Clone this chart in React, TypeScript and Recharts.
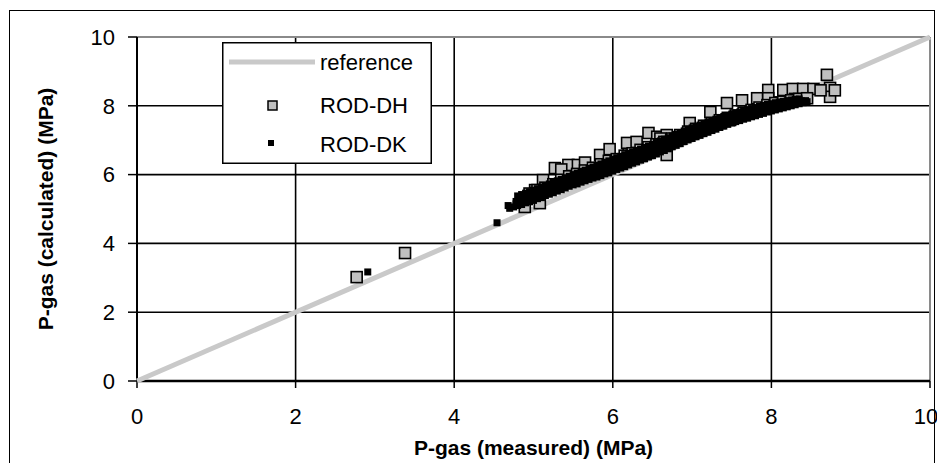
// App.tsx
import React from "react";
import {
  ScatterChart,
  Scatter,
  XAxis,
  YAxis,
  CartesianGrid,
  Legend,
  ReferenceLine
} from "recharts";

/**
 * P-gas calculated vs measured (MPa)
 * - reference 1:1 line, ROD-DH (grey squares), ROD-DK (small black squares)
 */

const xTicks = [0, 2, 4, 6, 8, 10];
const yTicks = [0, 2, 4, 6, 8, 10];

// [measured, calculated]
const referencePoints: [number, number][] = [
  [0, 0],
  [10, 10]
];

// ROD-DH, outliers and squares sticking out of the cloud
const dhOuter: [number, number][] = [
  [2.77, 3.02], [3.38, 3.72], [4.89, 5.06], [5.02, 5.55], [5.08, 5.17], [5.12, 5.84], [5.27, 6.19],
  [5.44, 6.28], [5.56, 6.28], [5.84, 6.57], [5.96, 6.74], [6.18, 6.92], [6.45, 7.21], [6.56, 7.1],
  [6.68, 7.15], [6.68, 6.57], [6.97, 7.5], [7.23, 7.82], [7.44, 8.08], [7.48, 7.59], [7.63, 8.16],
  [7.82, 8.22], [7.96, 8.46], [7.96, 8.22], [8.15, 8.46], [8.27, 8.49], [8.4, 8.49], [8.53, 8.49],
  [8.7, 8.9], [8.74, 8.52], [8.74, 8.26], [8.62, 8.45], [8.8, 8.45], [5.35, 6.15], [5.65, 6.35],
  [6.3, 6.95], [6.6, 7.05], [6.2, 6.6], [7.1, 7.3], [7.35, 7.5], [7.65, 7.75], [8.1, 8.1], [8.3, 8.2]
];

// ROD-DH, squares inside the cloud
const dhInner: [number, number][] = [
  [4.95, 5.45], [5.05, 5.55], [5.15, 5.62], [5.25, 5.72], [5.35, 5.85], [5.45, 5.95], [5.55, 6.02],
  [5.65, 6.12], [5.75, 6.2], [5.85, 6.3], [5.95, 6.4], [6.05, 6.45], [6.15, 6.55], [6.25, 6.62],
  [6.35, 6.72], [6.45, 6.8], [6.55, 6.88], [6.65, 6.95], [6.75, 7.05], [6.85, 7.15], [6.95, 7.25],
  [7.05, 7.33], [7.15, 7.42], [7.25, 7.5], [7.35, 7.58], [7.45, 7.65], [7.55, 7.72], [7.65, 7.8],
  [7.75, 7.88], [7.85, 7.95], [7.95, 8.02], [8.05, 8.08], [8.15, 8.12], [8.25, 8.16], [8.35, 8.2],
  [8.45, 8.22]
];

// ROD-DK, isolated points
const dkOuter: [number, number][] = [
  [2.91, 3.17], [4.54, 4.6], [4.68, 5.1], [4.78, 5.15]
];

// ROD-DK, lower edge of the cloud
const dkLower: [number, number][] = [
  [4.7, 5.02], [4.75, 5.06], [4.8, 5.1], [4.85, 5.13], [4.9, 5.18], [4.95, 5.21], [5.0, 5.25],
  [5.05, 5.3], [5.1, 5.33], [5.15, 5.39], [5.2, 5.43], [5.25, 5.47], [5.3, 5.52], [5.35, 5.56],
  [5.4, 5.61], [5.45, 5.66], [5.5, 5.7], [5.55, 5.73], [5.6, 5.78], [5.65, 5.82], [5.7, 5.86],
  [5.75, 5.9], [5.8, 5.93], [5.85, 5.97], [5.9, 6.02], [5.95, 6.05], [6.0, 6.1], [6.05, 6.15],
  [6.1, 6.19], [6.15, 6.23], [6.2, 6.28], [6.25, 6.33], [6.3, 6.37], [6.35, 6.42], [6.4, 6.46],
  [6.45, 6.51], [6.5, 6.55], [6.55, 6.6], [6.6, 6.66], [6.65, 6.7], [6.7, 6.75], [6.75, 6.81],
  [6.8, 6.85], [6.85, 6.9], [6.9, 6.96], [6.95, 7.01], [7.0, 7.05], [7.05, 7.1], [7.1, 7.14],
  [7.15, 7.19], [7.2, 7.23], [7.25, 7.28], [7.3, 7.32], [7.35, 7.37], [7.4, 7.41], [7.45, 7.46],
  [7.5, 7.5], [7.55, 7.54], [7.6, 7.57], [7.65, 7.61], [7.7, 7.64], [7.75, 7.68], [7.8, 7.71],
  [7.85, 7.75], [7.9, 7.78], [7.95, 7.82], [8.0, 7.85], [8.05, 7.88], [8.1, 7.91], [8.15, 7.94],
  [8.2, 7.97], [8.25, 8.0], [8.3, 8.03], [8.35, 8.06], [8.4, 8.09], [8.45, 8.12]
];

// ROD-DK, middle of the cloud
const dkMiddle: [number, number][] = [
  [4.78, 5.22], [4.83, 5.25], [4.88, 5.29], [4.93, 5.33], [4.98, 5.37], [5.03, 5.42], [5.08, 5.46],
  [5.13, 5.51], [5.18, 5.55], [5.23, 5.6], [5.28, 5.64], [5.33, 5.69], [5.38, 5.73], [5.43, 5.78],
  [5.48, 5.83], [5.53, 5.87], [5.58, 5.92], [5.63, 5.96], [5.68, 6.01], [5.73, 6.05], [5.78, 6.1],
  [5.83, 6.14], [5.88, 6.19], [5.93, 6.23], [5.98, 6.28], [6.03, 6.32], [6.08, 6.36], [6.13, 6.41],
  [6.18, 6.45], [6.23, 6.49], [6.28, 6.53], [6.33, 6.58], [6.38, 6.62], [6.43, 6.66], [6.48, 6.7],
  [6.53, 6.75], [6.58, 6.8], [6.63, 6.85], [6.68, 6.9], [6.73, 6.95], [6.78, 7.0], [6.83, 7.05],
  [6.88, 7.1], [6.93, 7.15], [6.98, 7.2], [7.03, 7.24], [7.08, 7.29], [7.13, 7.33], [7.18, 7.37],
  [7.23, 7.42], [7.28, 7.46], [7.33, 7.5], [7.38, 7.55], [7.43, 7.59], [7.48, 7.63], [7.53, 7.66],
  [7.58, 7.7], [7.63, 7.73], [7.68, 7.77], [7.73, 7.8], [7.78, 7.83], [7.83, 7.87], [7.88, 7.9],
  [7.93, 7.93], [7.98, 7.96], [8.03, 7.99], [8.08, 8.01], [8.13, 8.04], [8.18, 8.06], [8.23, 8.08],
  [8.28, 8.1], [8.33, 8.12], [8.38, 8.14], [8.43, 8.15]
];

// ROD-DK, upper part of the cloud
const dkUpper: [number, number][] = [
  [4.8, 5.38], [4.85, 5.42], [4.9, 5.46], [4.95, 5.5], [5.0, 5.55], [5.05, 5.59], [5.1, 5.64],
  [5.15, 5.68], [5.2, 5.73], [5.25, 5.77], [5.3, 5.82], [5.35, 5.86], [5.4, 5.91], [5.45, 5.95],
  [5.5, 6.0], [5.55, 6.04], [5.6, 6.09], [5.65, 6.13], [5.7, 6.18], [5.75, 6.22], [5.8, 6.27],
  [5.85, 6.31], [5.9, 6.36], [5.95, 6.4], [6.0, 6.45], [6.05, 6.49], [6.1, 6.53], [6.15, 6.58],
  [6.2, 6.62], [6.25, 6.66], [6.3, 6.7], [6.35, 6.74], [6.4, 6.79], [6.45, 6.83], [6.5, 6.88],
  [6.55, 6.93], [6.6, 6.98], [6.65, 7.03], [6.7, 7.07], [6.75, 7.12], [6.8, 7.17], [6.85, 7.22],
  [6.9, 7.27], [6.95, 7.32], [7.0, 7.36], [7.05, 7.4], [7.1, 7.44], [7.15, 7.49], [7.2, 7.53],
  [7.25, 7.57], [7.3, 7.61], [7.35, 7.65], [7.4, 7.69], [7.45, 7.72], [7.5, 7.76], [7.55, 7.79],
  [7.6, 7.82], [7.65, 7.86], [7.7, 7.89], [7.75, 7.92], [7.8, 7.95], [7.85, 7.98], [7.9, 8.01],
  [7.95, 8.04], [8.0, 8.06], [8.05, 8.09], [8.1, 8.11], [8.15, 8.13], [8.2, 8.15], [8.25, 8.17],
  [8.3, 8.19], [8.35, 8.2]
];

const toXY = (pts: [number, number][]) => pts.map(([x, y]) => ({ x, y }));
const referenceData = toXY(referencePoints);
const dhData = toXY([...dhOuter, ...dhInner]);
const dkData = toXY([...dkOuter, ...dkLower, ...dkMiddle, ...dkUpper]);

const FONT = "'Liberation Sans', Arial, sans-serif";
const REF_GREY = "#c9c9c9";

function DhSquare(props: any) {
  const { cx, cy } = props;
  if (cx == null || cy == null) return null;
  return <rect x={cx - 5.5} y={cy - 5.5} width={11} height={11} fill="#c0c0c0" stroke="#000" strokeWidth={1.6} />;
}

function DkSquare(props: any) {
  const { cx, cy } = props;
  if (cx == null || cy == null) return null;
  return <rect x={cx - 3.5} y={cy - 3.5} width={7} height={7} fill="#000" />;
}

function LegendBox() {
  return (
    <svg width={210} height={122} style={{ display: "block", fontFamily: FONT }}>
      <rect x={0.75} y={0.75} width={208.5} height={120.5} fill="#fff" stroke="#000" strokeWidth={1.5} />
      <line x1={7} y1={20} x2={93} y2={20} stroke={REF_GREY} strokeWidth={5} />
      <text x={98} y={28} fontSize={22} fill="#000">reference</text>
      <rect x={46} y={59} width={9} height={9} fill="#c0c0c0" stroke="#000" strokeWidth={1.5} />
      <text x={98} y={71} fontSize={22} fill="#000">ROD-DH</text>
      <rect x={46} y={98} width={6} height={6} fill="#000" />
      <text x={98} y={110} fontSize={22} fill="#000">ROD-DK</text>
    </svg>
  );
}

export default function App() {
  return (
    <div style={{ position: "fixed", left: 0, top: 0, width: 937, height: 463, background: "#fff", overflow: "hidden" }}>
      <div
        style={{
          position: "absolute",
          left: 9,
          top: 10,
          width: 926,
          height: 460,
          border: "1.5px solid #000",
          boxSizing: "border-box"
        }}
      />
      <div style={{ position: "absolute", left: 0, top: 0 }}>
        <ScatterChart width={937} height={463} margin={{ top: 37, right: 7, bottom: 0, left: 0 }}>
          <CartesianGrid stroke="#000" strokeWidth={1.6} />
          <XAxis
            type="number"
            dataKey="x"
            domain={[0, 10]}
            ticks={xTicks}
            height={82}
            tickSize={7}
            tickMargin={20}
            tick={{ fontSize: 22, fill: "#000", fontFamily: FONT }}
            tickLine={{ stroke: "#000", strokeWidth: 1.5 }}
            axisLine={{ stroke: "#000", strokeWidth: 2.5 }}
            label={{
              value: "P-gas (measured) (MPa)",
              position: "insideBottom",
              offset: 8,
              style: { fontSize: 21, fontWeight: "bold", fill: "#000", fontFamily: FONT }
            }}
          />
          <YAxis
            type="number"
            dataKey="y"
            domain={[0, 10]}
            ticks={yTicks}
            width={137}
            tickSize={9}
            tickMargin={13}
            tick={{ fontSize: 22, fill: "#000", fontFamily: FONT }}
            tickLine={{ stroke: "#000", strokeWidth: 1.5 }}
            axisLine={{ stroke: "#000", strokeWidth: 2 }}
            label={{
              value: "P-gas (calculated) (MPa)",
              angle: -90,
              position: "insideLeft",
              offset: 46,
              style: { fontSize: 21, fontWeight: "bold", fill: "#000", fontFamily: FONT, textAnchor: "middle" }
            }}
          />
          <ReferenceLine y={10} stroke="#8a8a8a" strokeWidth={2} />
          <ReferenceLine x={10} stroke="#8a8a8a" strokeWidth={2} />
          <Scatter
            name="reference"
            data={referenceData}
            line={{ stroke: REF_GREY, strokeWidth: 5 }}
            shape={() => null}
            isAnimationActive={false}
          />
          <Scatter name="ROD-DH" data={dhData} shape={DhSquare} isAnimationActive={false} />
          <Scatter name="ROD-DK" data={dkData} shape={DkSquare} isAnimationActive={false} />
          <Legend
            layout="horizontal"
            verticalAlign="middle"
            align="center"
            content={() => <LegendBox />}
            wrapperStyle={{ position: "absolute", left: 222, top: 42, width: 210, height: 122 }}
          />
        </ScatterChart>
      </div>
    </div>
  );
}
